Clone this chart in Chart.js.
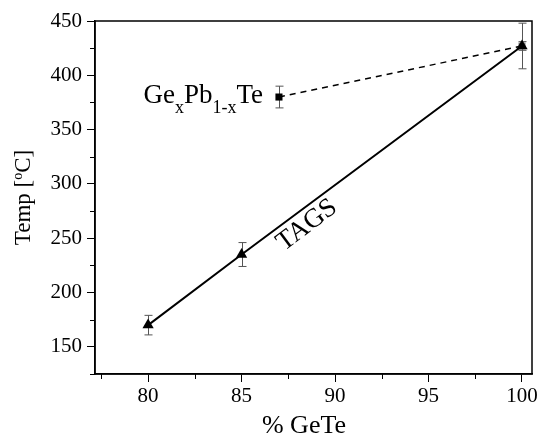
<!DOCTYPE html>
<html>
<head>
<meta charset="utf-8">
<script src="https://cdn.jsdelivr.net/npm/chart.js@4"></script>
<style>
  body { margin: 0; background: #fff; }
  canvas { display: block; }
</style>
</head>
<body>
<canvas id="tempChart" width="540" height="440"></canvas>
<script>
// TAGS series (% GeTe vs transition temp)
const tagsX = [80, 85, 100];
const tagsTemp = [170, 235, 427];
const tagsErr = [9, 11, 21];

// GexPb1-xTe series
const gptX = [87, 100];
const gptTemp = [380, 427];
const gptErr = [10, 4];

const xTicks = [80, 85, 90, 95, 100];
const xMinor = [77.5, 82.5, 87.5, 92.5, 97.5];
const yTicks = [150, 200, 250, 300, 350, 400, 450];
const yMinor = [125, 175, 225, 275, 325, 375, 425];

const serif = "'Liberation Serif', 'Times New Roman', serif";

const pts = (xs, ys) => xs.map((x, i) => ({ x: x, y: ys[i] }));

// error bars, frame, minor ticks and text labels
const decorations = {
    id: 'decorations',
    beforeDatasetsDraw(chart) {
        const ctx = chart.ctx;
        const xs = chart.scales.x, ys = chart.scales.y;
        ctx.save();
        ctx.strokeStyle = '#555';
        ctx.lineWidth = 1;
        chart.data.datasets.forEach(ds => {
            ds.data.forEach((p, i) => {
                const e = ds.errors[i];
                const px = Math.round(xs.getPixelForValue(p.x)) + 0.5;
                const top = ys.getPixelForValue(p.y + e);
                const bot = ys.getPixelForValue(p.y - e);
                ctx.beginPath();
                ctx.moveTo(px, top); ctx.lineTo(px, bot);
                ctx.moveTo(px - 4, top); ctx.lineTo(px + 4, top);
                ctx.moveTo(px - 4, bot); ctx.lineTo(px + 4, bot);
                ctx.stroke();
            });
        });
        ctx.restore();
    },
    afterDraw(chart) {
        const ctx = chart.ctx;
        const a = chart.chartArea;
        const xs = chart.scales.x, ys = chart.scales.y;
        ctx.save();
        ctx.strokeStyle = '#000';
        ctx.lineWidth = 1.5;
        ctx.strokeRect(a.left, a.top, a.right - a.left, a.bottom - a.top);

        // minor ticks
        ctx.lineWidth = 1;
        ctx.beginPath();
        xMinor.forEach(v => {
            const px = Math.round(xs.getPixelForValue(v)) + 0.5;
            ctx.moveTo(px, a.bottom); ctx.lineTo(px, a.bottom + 5);
        });
        yMinor.forEach(v => {
            const py = Math.round(ys.getPixelForValue(v)) + 0.5;
            ctx.moveTo(a.left, py); ctx.lineTo(a.left - 5, py);
        });
        ctx.stroke();

        ctx.fillStyle = '#000';
        ctx.textBaseline = 'alphabetic';

        // GexPb1-xTe label
        const parts = [['Ge', 0], ['x', 1], ['Pb', 0], ['1-x', 1], ['Te', 0]];
        const big = '27px ' + serif, small = '18px ' + serif;
        let w = 0;
        parts.forEach(p => { ctx.font = p[1] ? small : big; w += ctx.measureText(p[0]).width; });
        let lx = xs.getPixelForValue(86.15) - w;
        const ly = ys.getPixelForValue(374.5);
        parts.forEach(p => {
            ctx.font = p[1] ? small : big;
            ctx.fillText(p[0], lx, ly + (p[1] ? 10 : 0));
            lx += ctx.measureText(p[0]).width;
        });

        // TAGS label along the line
        ctx.save();
        ctx.translate(xs.getPixelForValue(88.5), ys.getPixelForValue(262));
        ctx.rotate(-37 * Math.PI / 180);
        ctx.font = '27px ' + serif;
        ctx.textAlign = 'center';
        ctx.textBaseline = 'middle';
        ctx.fillText('TAGS', 0, 0);
        ctx.restore();

        // x axis title
        ctx.font = '26px ' + serif;
        ctx.textAlign = 'center';
        ctx.fillText('% GeTe', 304, 433);

        // y axis title with superscript o
        ctx.save();
        ctx.translate(30, (a.top + a.bottom) / 2);
        ctx.rotate(-Math.PI / 2);
        const tParts = [['Temp [', 0], ['o', 1], ['C]', 0]];
        const tBig = '23px ' + serif, tSmall = '14px ' + serif;
        let tw = 0;
        tParts.forEach(p => { ctx.font = p[1] ? tSmall : tBig; tw += ctx.measureText(p[0]).width; });
        let tx = -tw / 2;
        ctx.textAlign = 'left';
        tParts.forEach(p => {
            ctx.font = p[1] ? tSmall : tBig;
            ctx.fillText(p[0], tx, p[1] ? -8 : 0);
            tx += ctx.measureText(p[0]).width;
        });
        ctx.restore();
        ctx.restore();
    }
};

new Chart(document.getElementById('tempChart'), {
    type: 'scatter',
    data: {
        datasets: [{
            label: 'TAGS',
            data: pts(tagsX, tagsTemp),
            errors: tagsErr,
            showLine: true,
            borderColor: '#000',
            borderWidth: 2,
            backgroundColor: '#000',
            pointStyle: 'triangle',
            pointRadius: 6.5,
            pointBorderWidth: 0,
            tension: 0
        }, {
            label: 'GexPb1-xTe',
            data: pts(gptX, gptTemp),
            errors: gptErr,
            showLine: true,
            borderColor: '#000',
            borderWidth: 1.5,
            borderDash: [6, 5],
            backgroundColor: ['#000', '#888'],
            pointStyle: 'rect',
            pointRadius: 5,
            pointBorderWidth: 0,
            tension: 0
        }]
    },
    options: {
        responsive: false,
        animation: false,
        layout: { padding: { top: 21, right: 8, left: 0, bottom: 0 } },
        plugins: {
            legend: { display: false },
            tooltip: { enabled: false }
        },
        scales: {
            x: {
                type: 'linear',
                min: 77.16,
                max: 100.535,
                afterBuildTicks: s => { s.ticks = xTicks.map(v => ({ value: v })); },
                afterFit: s => { s.height = 66; },
                grid: { drawOnChartArea: false, tickLength: 8, color: '#000', lineWidth: 1 },
                border: { color: '#000', width: 1.5 },
                ticks: { color: '#000', padding: 2, font: { family: serif, size: 21 } }
            },
            y: {
                type: 'linear',
                min: 125,
                max: 450,
                afterBuildTicks: s => { s.ticks = yTicks.map(v => ({ value: v })); },
                afterFit: s => { s.width = 95; },
                grid: { drawOnChartArea: false, tickLength: 8, color: '#000', lineWidth: 1 },
                border: { color: '#000', width: 1.5 },
                ticks: { color: '#000', padding: 5, font: { family: serif, size: 21 } }
            }
        }
    },
    plugins: [decorations]
});
</script>
</body>
</html>
